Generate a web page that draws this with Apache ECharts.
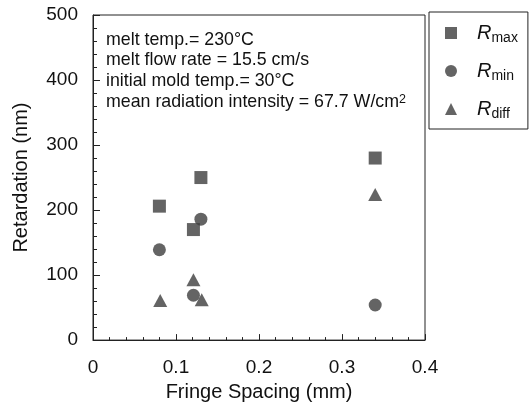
<!DOCTYPE html>
<html>
<head>
<meta charset="utf-8">
<script src="https://cdn.jsdelivr.net/npm/echarts@6/dist/echarts.min.js"></script>
<style>
html,body{margin:0;padding:0;background:#fff;}
#c{width:531px;height:407px;}
</style>
</head>
<body>
<div id="c"></div>
<script>
// Data
const seriesNames = ['Rmax', 'Rmin', 'Rdiff'];
const subscripts = ['max', 'min', 'diff'];
const xRmax = [0.080, 0.121, 0.130, 0.340];
const yRmax = [206, 170, 250, 280];
const xRmin = [0.080, 0.130, 0.121, 0.340];
const yRmin = [139, 186, 69, 54];
const xRdiff = [0.081, 0.121, 0.131, 0.340];
const yRdiff = [61, 93, 62, 224];
const xTicks = [0, 0.1, 0.2, 0.3, 0.4];
const yTicks = [0, 100, 200, 300, 400, 500];
const noteLines = [
  'melt temp.= 230°C',
  'melt flow rate = 15.5 cm/s',
  'initial mold temp.= 30°C',
  'mean radiation intensity = 67.7 W/cm{sup|2}'
];

const FONT = '"Liberation Sans", Arial, Helvetica, sans-serif';
const INK = '#111';
const MARK = '#3d3d3d';

function pairs(xs, ys) { return xs.map((x, i) => [x, ys[i]]); }

const chart = echarts.init(document.getElementById('c'), null, {renderer: 'canvas'});

const option = {
  animation: false,
  backgroundColor: '#fff',
  grid: {
    left: 93, right: 106, top: 15, bottom: 60,
    show: true, borderColor: '#222', borderWidth: 1, backgroundColor: 'transparent'
  },
  xAxis: {
    type: 'value', min: 0, max: 0.4, interval: 0.1,
    name: 'Fringe Spacing (mm)', nameLocation: 'middle', nameGap: 38,
    nameTextStyle: {fontFamily: FONT, fontSize: 20, color: INK},
    axisLine: {show: true, lineStyle: {color: '#222', width: 1}},
    axisTick: {show: true, inside: true, length: 6, lineStyle: {color: '#222'}},
    minorTick: {show: true, splitNumber: 5, length: 3, lineStyle: {color: '#222'}},
    splitLine: {show: false},
    axisLabel: {
      fontFamily: FONT, fontSize: 19, color: INK, margin: 18,
      formatter: v => { const t = xTicks.find(k => Math.abs(k - v) < 1e-9); return t === undefined ? '' : (t === 0 ? '0' : String(t)); }
    }
  },
  yAxis: {
    type: 'value', min: 0, max: 500, interval: 100,
    name: 'Retardation (nm)', nameLocation: 'middle', nameGap: 62,
    nameTextStyle: {fontFamily: FONT, fontSize: 20, color: INK},
    axisLine: {show: true, lineStyle: {color: '#222', width: 1}},
    axisTick: {show: true, inside: true, length: 7, lineStyle: {color: '#222'}},
    minorTick: {show: true, splitNumber: 5, length: 4, lineStyle: {color: '#222'}},
    splitLine: {show: false},
    axisLabel: {
      fontFamily: FONT, fontSize: 19, color: INK, margin: 15, padding: [5, 0, 0, 0],
      formatter: v => { const t = yTicks.find(k => k === v); return t === undefined ? '' : String(t); }
    }
  },
  legend: {
    orient: 'vertical', left: 429, top: 12,
    padding: [11, 10, 8, 16],
    itemGap: 16, itemWidth: 12, itemHeight: 12,
    borderColor: '#222', borderWidth: 1, backgroundColor: '#fff',
    data: [
      {name: seriesNames[0], icon: 'rect'},
      {name: seriesNames[1], icon: 'circle'},
      {name: seriesNames[2], icon: 'triangle'}
    ],
    formatter: name => '{r|R}{s|' + subscripts[seriesNames.indexOf(name)] + '}',
    textStyle: {
      padding: [0, 0, 0, 15],
      rich: {
        r: {fontFamily: FONT, fontSize: 20, fontStyle: 'italic', color: INK, lineHeight: 24},
        s: {fontFamily: FONT, fontSize: 14, color: INK, lineHeight: 13, verticalAlign: 'bottom'}
      }
    }
  },
  graphic: noteLines.map((t, i) => ({
    type: 'text', left: 106, top: 31 + i * 20.6, silent: true,
    style: {
      text: t, fill: INK, font: '17.8px ' + FONT,
      rich: {sup: {fontFamily: FONT, fontSize: 12.5, fill: INK, verticalAlign: 'top', lineHeight: 12}}
    }
  })),
  series: [
    {name: seriesNames[0], type: 'scatter', symbol: 'rect', symbolSize: 13,
     itemStyle: {color: MARK}, data: pairs(xRmax, yRmax)},
    {name: seriesNames[1], type: 'scatter', symbol: 'circle', symbolSize: 13,
     itemStyle: {color: MARK}, data: pairs(xRmin, yRmin)},
    {name: seriesNames[2], type: 'scatter', symbol: 'triangle', symbolSize: [14, 13],
     itemStyle: {color: MARK}, data: pairs(xRdiff, yRdiff)}
  ]
};
chart.setOption(option);
</script>
</body>
</html>
